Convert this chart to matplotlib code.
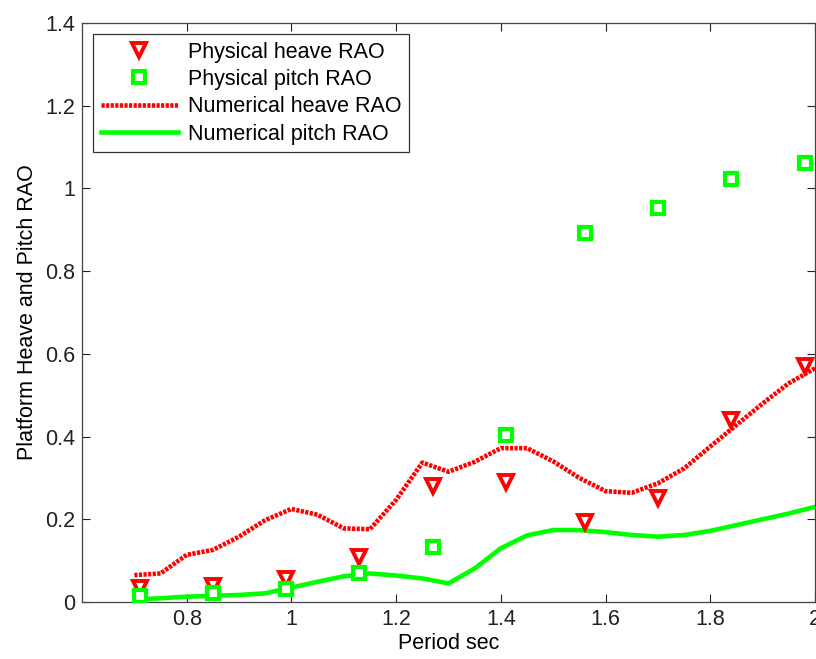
import numpy as np
import matplotlib
matplotlib.use('Agg')
import matplotlib.pyplot as plt
from matplotlib.ticker import FuncFormatter

plt.rcParams['font.family'] = ['Liberation Sans', 'DejaVu Sans']

# measured points
period_phys = [0.71, 0.85, 0.99, 1.13, 1.27, 1.41, 1.56, 1.70, 1.84, 1.98]
heave_phys = [0.035, 0.038, 0.055, 0.11, 0.28, 0.289, 0.193, 0.251, 0.44, 0.571]
pitch_phys = [0.014, 0.021, 0.031, 0.07, 0.132, 0.405, 0.892, 0.952, 1.022, 1.061]

# numerical curves
period_num = [0.70, 0.75, 0.80, 0.85, 0.90, 0.95, 1.00, 1.05, 1.10, 1.15,
              1.20, 1.25, 1.30, 1.35, 1.40, 1.45, 1.50, 1.55, 1.60, 1.65,
              1.70, 1.75, 1.80, 1.85, 1.90, 1.95, 2.00]
heave_num = [0.065, 0.069, 0.114, 0.126, 0.158, 0.198, 0.225, 0.211, 0.178, 0.176,
             0.247, 0.337, 0.315, 0.339, 0.372, 0.372, 0.340, 0.300, 0.268, 0.264,
             0.287, 0.323, 0.376, 0.428, 0.480, 0.529, 0.565]
pitch_num = [0.006, 0.009, 0.013, 0.015, 0.017, 0.021, 0.035, 0.049, 0.062, 0.069,
             0.064, 0.057, 0.045, 0.081, 0.130, 0.161, 0.174, 0.174, 0.169, 0.162,
             0.158, 0.162, 0.172, 0.186, 0.200, 0.214, 0.230]

red = '#ff0000'
green = '#00ff00'
fs = 15.5

fig = plt.figure(figsize=(8.16, 6.59), dpi=100)
ax = fig.add_axes([82 / 816, 1 - 602 / 659, 733 / 816, 579 / 659])

ax.plot(period_phys, heave_phys, 'v', color=red, mfc='white', mec=red,
        ms=10, mew=2.8, label='Physical heave RAO', zorder=3)
ax.plot(period_phys, pitch_phys, 's', color=green, mfc='white', mec=green,
        ms=8.3, mew=3, label='Physical pitch RAO', zorder=3)
ax.plot(period_num, heave_num, color=red, lw=3.3, linestyle=(0, (0.7, 0.3)),
        label='Numerical heave RAO', zorder=2)
ax.plot(period_num, pitch_num, color=green, lw=3.3, label='Numerical pitch RAO', zorder=2)

ax.set_xlim(0.6, 2.0)
ax.set_ylim(0, 1.4)
ax.set_xticks(np.arange(0.8, 2.01, 0.2))
ax.set_yticks(np.arange(0, 1.41, 0.2))
fmt = FuncFormatter(lambda v, p: ('%.1f' % v).rstrip('0').rstrip('.'))
ax.xaxis.set_major_formatter(fmt)
ax.yaxis.set_major_formatter(fmt)
ax.tick_params(direction='in', length=6, width=0.8, top=True, right=True,
               labelsize=fs, colors='#222222', pad=5)
for s in ax.spines.values():
    s.set_color('#444444')
    s.set_linewidth(0.9)

ax.set_xlabel('Period sec', fontsize=fs, labelpad=2)
ax.set_ylabel('Platform Heave and Pitch RAO', fontsize=fs, labelpad=5)

leg = ax.legend(loc='upper left', bbox_to_anchor=(0.015, 0.981), fontsize=fs,
                handlelength=3.6, labelspacing=0.3, borderpad=0.35,
                handletextpad=0.45, fancybox=False, framealpha=1, borderaxespad=0)
leg.get_frame().set_edgecolor('#333333')
leg.get_frame().set_linewidth(0.9)

fig.savefig('out.png', dpi=100)
